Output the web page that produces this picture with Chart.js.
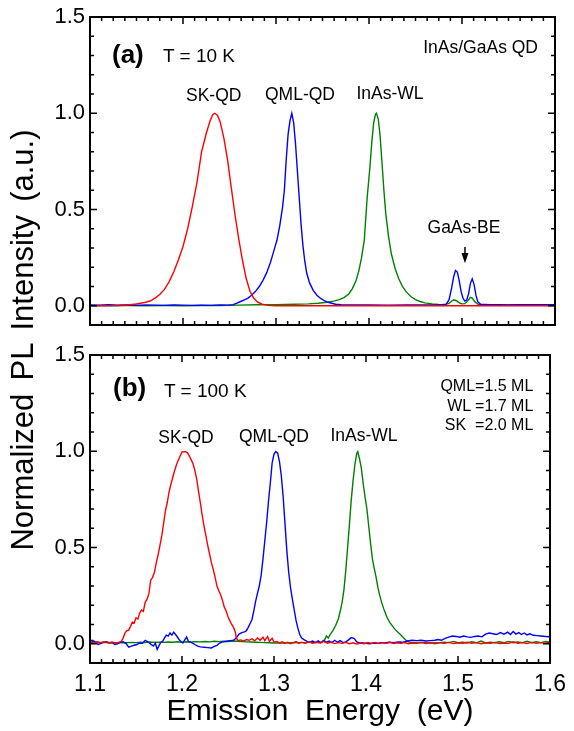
<!DOCTYPE html>
<html>
<head>
<meta charset="utf-8">
<script src="https://cdn.jsdelivr.net/npm/chart.js@4.4.0/dist/chart.umd.min.js"></script>
<style>
  html, body { margin: 0; padding: 0; background: #fff; }
  #wrap { position: relative; width: 574px; height: 731px; overflow: hidden; font-family: Arial, "Liberation Sans", sans-serif; color: #000; }
  #wrap canvas { position: absolute; left: 0; }
  .lbl { position: absolute; white-space: pre; line-height: 1; }
  .mid { transform: translateX(-50%); }
</style>
</head>
<body>
<div id="wrap">
  <canvas id="cnv_10k" width="574" height="335" style="top:0;width:574px;height:335px"></canvas>
  <canvas id="cnv_100k" width="574" height="396" style="top:335px;width:574px;height:396px"></canvas>

  <div class="lbl" style="left:-227.2px;top:325px;width:500px;height:30px;line-height:30px;font-size:31px;word-spacing:-2px;text-align:center;transform:rotate(-90deg)">Normalized  PL  Intensity  (a.u.)</div>

  <!-- panel (a) -->
  <div class="lbl" style="left:112px;top:41.2px;font-size:26px;font-weight:bold">(a)</div>
  <div class="lbl" style="left:163px;top:45.6px;font-size:19px">T = 10 K</div>
  <div class="lbl" style="right:36px;top:38.5px;font-size:17.5px">InAs/GaAs QD</div>
  <div class="lbl mid" style="left:213.7px;top:86.9px;font-size:17.5px">SK-QD</div>
  <div class="lbl mid" style="left:300px;top:85.7px;font-size:17.5px">QML-QD</div>
  <div class="lbl mid" style="left:390px;top:85.2px;font-size:17.5px">InAs-WL</div>
  <div class="lbl mid" style="left:464px;top:218.5px;font-size:17.5px">GaAs-BE</div>

  <!-- panel (b) -->
  <div class="lbl" style="left:113px;top:374.2px;font-size:26px;font-weight:bold">(b)</div>
  <div class="lbl" style="left:164px;top:380.6px;font-size:19px">T = 100 K</div>
  <div class="lbl mid" style="left:186px;top:428.5px;font-size:17.5px">SK-QD</div>
  <div class="lbl mid" style="left:274px;top:428.2px;font-size:17.5px">QML-QD</div>
  <div class="lbl mid" style="left:364px;top:426.9px;font-size:17.5px">InAs-WL</div>
  <div class="lbl" style="right:40.7px;top:378.2px;font-size:16px">QML=1.5 ML</div>
  <div class="lbl" style="right:40.7px;top:398.2px;font-size:16px">WL =1.7 ML</div>
  <div class="lbl" style="right:40.7px;top:417.2px;font-size:16px">SK  =2.0 ML</div>
</div>

<script>
// axis ticks
const xMajorTicks = [1.1, 1.2, 1.3, 1.4, 1.5, 1.6];
const yMajorTicks = [0.0, 0.5, 1.0, 1.5];
const xMinorStep = 0.0125;
const yMinorStep = 0.1;

// ---- T = 10 K ----
const red10E = [1.100,1.130,1.140,1.150,1.160,1.165,1.170,1.175,1.180,1.185,1.190,1.195,1.200,1.205,1.210,1.215,1.220,1.225,1.229,1.232,1.234,1.237,1.240,1.244,1.248,1.252,1.256,1.260,1.264,1.268,1.272,1.276,1.280,1.285,1.292,1.300,1.400,1.500,1.600];
const red10I = [0.000,0.001,0.004,0.009,0.018,0.026,0.040,0.058,0.085,0.124,0.175,0.238,0.308,0.400,0.515,0.640,0.800,0.895,0.960,0.993,1.000,0.990,0.955,0.870,0.755,0.610,0.470,0.345,0.235,0.140,0.075,0.040,0.020,0.008,0.002,0.000,0.000,0.000,0.000];

const blue10E = [1.100,1.110,1.120,1.130,1.140,1.150,1.160,1.170,1.180,1.190,1.200,1.210,1.220,1.230,1.240,1.248,1.254,1.258,1.262,1.266,1.270,1.274,1.278,1.282,1.286,1.290,1.294,1.298,1.301,1.304,1.307,1.309,1.311,1.313,1.315,1.317,1.319,1.321,1.323,1.325,1.327,1.329,1.331,1.333,1.336,1.340,1.344,1.348,1.352,1.356,1.360,1.364,1.370,1.380,1.400,1.420,1.440,1.460,1.478,1.483,1.486,1.489,1.491,1.493,1.495,1.497,1.499,1.501,1.503,1.505,1.507,1.509,1.511,1.513,1.515,1.517,1.520,1.530,1.540,1.550,1.560,1.570,1.580,1.590,1.600];
const blue10I = [0.004,0.003,0.005,0.003,0.004,0.002,0.004,0.003,0.002,0.004,0.003,0.002,0.003,0.002,0.004,0.003,0.006,0.014,0.022,0.030,0.040,0.056,0.075,0.100,0.132,0.172,0.225,0.290,0.340,0.415,0.510,0.600,0.760,0.890,0.960,1.000,0.950,0.840,0.700,0.560,0.420,0.310,0.230,0.170,0.120,0.080,0.055,0.038,0.026,0.018,0.013,0.008,0.005,0.004,0.004,0.003,0.004,0.004,0.005,0.008,0.030,0.095,0.150,0.183,0.175,0.130,0.075,0.040,0.024,0.030,0.060,0.115,0.140,0.110,0.055,0.020,0.008,0.005,0.006,0.004,0.006,0.005,0.006,0.005,0.006];

const green10E = [1.100,1.120,1.140,1.160,1.180,1.200,1.220,1.240,1.260,1.280,1.300,1.320,1.335,1.345,1.355,1.362,1.368,1.373,1.378,1.382,1.386,1.389,1.392,1.395,1.398,1.401,1.403,1.405,1.407,1.408,1.410,1.412,1.414,1.416,1.418,1.421,1.424,1.428,1.432,1.436,1.440,1.445,1.450,1.455,1.460,1.468,1.475,1.482,1.486,1.489,1.491,1.494,1.497,1.500,1.503,1.506,1.509,1.511,1.514,1.517,1.522,1.540,1.560,1.580,1.600];
const green10I = [0.001,0.000,0.001,0.000,0.001,0.000,0.001,0.001,0.003,0.005,0.006,0.008,0.010,0.013,0.018,0.024,0.032,0.042,0.060,0.088,0.130,0.180,0.250,0.345,0.560,0.720,0.850,0.950,0.995,1.000,0.970,0.880,0.740,0.600,0.480,0.360,0.270,0.195,0.140,0.100,0.072,0.048,0.032,0.022,0.015,0.010,0.007,0.006,0.012,0.025,0.031,0.026,0.015,0.010,0.011,0.025,0.044,0.040,0.020,0.008,0.004,0.003,0.004,0.003,0.003];

// ---- T = 100 K ----
const red100E = [1.100,1.104,1.108,1.112,1.116,1.120,1.124,1.128,1.131,1.134,1.136,1.138,1.140,1.142,1.144,1.146,1.148,1.150,1.152,1.154,1.156,1.158,1.160,1.162,1.164,1.166,1.168,1.170,1.172,1.174,1.176,1.178,1.180,1.182,1.184,1.186,1.188,1.190,1.192,1.194,1.196,1.198,1.200,1.204,1.206,1.208,1.210,1.212,1.214,1.216,1.218,1.220,1.222,1.224,1.226,1.228,1.230,1.232,1.234,1.236,1.238,1.240,1.242,1.244,1.246,1.248,1.250,1.252,1.254,1.256,1.258,1.259,1.261,1.264,1.267,1.270,1.273,1.276,1.279,1.282,1.285,1.288,1.290,1.293,1.295,1.298,1.300,1.303,1.306,1.309,1.312,1.315,1.318,1.321,1.324,1.327,1.330,1.334,1.338,1.342,1.346,1.350,1.354,1.358,1.362,1.366,1.370,1.374,1.378,1.382,1.386,1.390,1.394,1.398,1.402,1.406,1.410,1.414,1.418,1.422,1.426,1.430,1.434,1.438,1.442,1.446,1.450,1.455,1.460,1.465,1.470,1.475,1.480,1.485,1.490,1.495,1.500,1.505,1.510,1.515,1.520,1.525,1.530,1.535,1.540,1.545,1.550,1.555,1.560,1.565,1.570,1.575,1.580,1.585,1.590,1.595,1.600];
const red100I = [0.008,0.004,0.010,0.006,0.010,0.005,0.008,0.004,0.007,0.012,0.030,0.055,0.068,0.070,0.090,0.112,0.108,0.135,0.128,0.160,0.175,0.168,0.215,0.232,0.260,0.330,0.345,0.370,0.420,0.462,0.510,0.560,0.625,0.690,0.735,0.790,0.830,0.865,0.900,0.930,0.955,0.975,0.996,0.998,0.992,0.975,0.955,0.935,0.900,0.855,0.790,0.730,0.665,0.610,0.560,0.510,0.465,0.420,0.385,0.345,0.300,0.275,0.255,0.225,0.190,0.170,0.140,0.120,0.100,0.085,0.060,0.030,0.016,0.020,0.014,0.022,0.018,0.026,0.015,0.030,0.018,0.034,0.016,0.038,0.012,0.028,0.008,0.012,0.004,0.010,0.002,0.008,0.000,0.006,0.012,0.002,0.008,0.003,0.010,0.002,0.008,0.004,0.012,0.003,0.008,0.001,0.006,0.002,0.007,0.000,0.005,-0.002,0.004,0.000,0.006,0.002,0.007,0.001,0.006,0.002,0.008,0.001,0.005,0.002,0.006,0.000,0.004,0.002,0.007,0.001,0.005,0.000,0.006,0.002,0.007,0.001,0.005,0.003,0.008,0.002,0.006,0.000,0.005,0.002,0.007,0.001,0.004,0.002,0.010,0.003,0.006,0.001,0.007,0.002,0.006,0.003,0.008];

const blue100E = [1.100,1.103,1.106,1.109,1.112,1.115,1.118,1.121,1.124,1.127,1.130,1.133,1.136,1.139,1.142,1.145,1.148,1.151,1.154,1.157,1.160,1.163,1.166,1.169,1.171,1.173,1.175,1.177,1.179,1.181,1.183,1.185,1.187,1.189,1.191,1.193,1.195,1.197,1.199,1.201,1.203,1.205,1.207,1.209,1.211,1.214,1.217,1.220,1.224,1.228,1.232,1.235,1.238,1.241,1.244,1.247,1.250,1.253,1.256,1.259,1.262,1.265,1.268,1.270,1.272,1.274,1.276,1.278,1.280,1.282,1.284,1.286,1.288,1.290,1.292,1.294,1.296,1.298,1.300,1.302,1.304,1.306,1.308,1.310,1.312,1.314,1.316,1.318,1.320,1.322,1.324,1.326,1.328,1.330,1.333,1.336,1.339,1.342,1.345,1.348,1.351,1.354,1.357,1.360,1.363,1.366,1.369,1.372,1.375,1.378,1.381,1.384,1.387,1.390,1.393,1.396,1.400,1.404,1.408,1.412,1.416,1.420,1.425,1.430,1.435,1.440,1.445,1.450,1.455,1.460,1.465,1.470,1.475,1.478,1.482,1.486,1.490,1.494,1.498,1.502,1.506,1.510,1.514,1.518,1.522,1.526,1.530,1.534,1.538,1.542,1.546,1.550,1.554,1.557,1.560,1.563,1.566,1.569,1.572,1.575,1.578,1.582,1.586,1.590,1.595,1.600];
const blue100I = [0.020,0.012,0.008,-0.004,0.002,0.008,0.010,0.004,0.006,-0.004,0.000,0.008,0.010,0.002,-0.018,-0.012,-0.008,-0.004,0.004,0.002,0.018,0.010,-0.002,-0.012,0.004,-0.030,-0.010,0.008,0.012,0.030,0.045,0.040,0.056,0.045,0.060,0.048,0.035,0.020,0.012,0.004,0.020,0.035,0.012,0.008,0.005,-0.004,-0.012,-0.016,-0.018,-0.020,-0.022,-0.014,-0.008,0.004,0.010,0.012,0.014,0.016,0.018,0.030,0.050,0.058,0.062,0.068,0.085,0.105,0.125,0.170,0.220,0.262,0.300,0.355,0.440,0.535,0.630,0.740,0.835,0.940,0.985,0.998,0.990,0.945,0.870,0.760,0.620,0.480,0.370,0.290,0.230,0.175,0.120,0.080,0.048,0.030,0.020,0.012,0.008,0.014,0.006,0.015,0.005,0.016,0.008,0.014,0.006,0.018,0.008,0.016,0.006,0.010,0.020,0.032,0.028,0.010,0.004,0.006,0.002,0.000,0.004,0.002,0.006,0.004,0.008,0.005,0.009,0.008,0.014,0.018,0.016,0.018,0.014,0.016,0.018,0.022,0.018,0.028,0.034,0.040,0.038,0.034,0.040,0.036,0.033,0.038,0.040,0.036,0.050,0.056,0.052,0.048,0.058,0.050,0.060,0.048,0.064,0.050,0.058,0.048,0.056,0.046,0.052,0.044,0.042,0.040,0.038,0.036];

const green100E = [1.100,1.103,1.106,1.110,1.115,1.120,1.125,1.130,1.135,1.140,1.145,1.150,1.155,1.160,1.165,1.170,1.175,1.180,1.185,1.190,1.195,1.200,1.205,1.210,1.215,1.220,1.225,1.230,1.235,1.240,1.245,1.250,1.255,1.260,1.265,1.270,1.275,1.280,1.285,1.290,1.295,1.300,1.310,1.320,1.330,1.340,1.348,1.352,1.355,1.357,1.359,1.361,1.364,1.367,1.370,1.372,1.374,1.376,1.378,1.380,1.382,1.384,1.386,1.388,1.390,1.391,1.393,1.395,1.397,1.399,1.401,1.403,1.405,1.407,1.409,1.411,1.413,1.415,1.417,1.419,1.421,1.423,1.426,1.429,1.432,1.435,1.438,1.441,1.444,1.447,1.450,1.455,1.460,1.465,1.470,1.475,1.480,1.485,1.490,1.495,1.500,1.505,1.510,1.515,1.520,1.525,1.530,1.535,1.540,1.545,1.550,1.555,1.560,1.565,1.570,1.575,1.580,1.585,1.590,1.595,1.600];
const green100I = [0.015,0.018,0.010,0.006,0.008,0.005,0.007,0.004,0.006,0.005,0.007,0.006,0.008,0.006,0.009,0.007,0.008,0.007,0.009,0.008,0.010,0.008,0.010,0.009,0.011,0.010,0.012,0.010,0.013,0.011,0.013,0.012,0.014,0.013,0.012,0.010,0.009,0.008,0.007,0.006,0.005,0.004,0.004,0.005,0.006,0.007,0.008,0.010,0.020,0.040,0.030,0.048,0.068,0.095,0.130,0.170,0.215,0.280,0.380,0.500,0.620,0.750,0.850,0.935,0.990,0.998,0.960,0.910,0.830,0.760,0.700,0.610,0.520,0.440,0.390,0.345,0.290,0.250,0.215,0.185,0.160,0.135,0.110,0.090,0.072,0.058,0.045,0.030,0.016,0.008,0.005,0.006,0.005,0.007,0.004,0.006,0.005,0.008,0.006,0.012,0.005,0.008,0.004,0.010,0.005,0.014,0.004,0.008,0.005,0.010,0.006,0.012,0.005,0.009,0.006,0.013,0.005,0.010,0.006,0.012,0.008];

// GaAs-BE arrow (data coords)
const arrowE = 1.5032;
const arrowFrom = 0.305, arrowHead = 0.274, arrowTip = 0.221;

const RED = '#ff0000', BLUE = '#0000ff', GREEN = '#008000';
const FONT = 'Arial, "Liberation Sans", sans-serif';

const pts = (es, is) => es.map((e, i) => ({ x: e, y: is[i] }));

// inward ticks on all four sides + frame
const frameTicks = {
	id: 'frameTicks',
	afterDatasetsDraw(chart) {
		const { ctx, chartArea: a, scales: { x, y } } = chart;
		ctx.save();
		ctx.strokeStyle = '#000';
		ctx.lineWidth = 1.5;
		ctx.beginPath();
		const nx = Math.round((1.6 - 1.1) / xMinorStep);
		for (let i = 1; i < nx; i++) {
			const px = x.getPixelForValue(1.1 + i * xMinorStep);
			const len = i % 8 === 0 ? 7 : 4;
			ctx.moveTo(px, a.bottom); ctx.lineTo(px, a.bottom - len);
			ctx.moveTo(px, a.top); ctx.lineTo(px, a.top + len);
		}
		for (let i = 1; i < 16; i++) {
			const v = -0.1 + i * yMinorStep;
			const py = y.getPixelForValue(v);
			const len = (i - 1) % 5 === 0 ? 7 : 4;
			ctx.moveTo(a.left, py); ctx.lineTo(a.left + len, py);
			ctx.moveTo(a.right, py); ctx.lineTo(a.right - len, py);
		}
		ctx.stroke();
		ctx.lineWidth = 2;
		ctx.strokeRect(a.left, a.top, a.right - a.left, a.bottom - a.top);
		ctx.restore();
	}
};

const arrowMark = {
	id: 'arrowMark',
	afterDatasetsDraw(chart) {
		const { ctx, scales: { x, y } } = chart;
		const px = x.getPixelForValue(arrowE);
		ctx.save();
		ctx.strokeStyle = '#000';
		ctx.fillStyle = '#000';
		ctx.lineWidth = 1.5;
		ctx.beginPath();
		ctx.moveTo(px, y.getPixelForValue(arrowFrom));
		ctx.lineTo(px, y.getPixelForValue(arrowHead) + 1);
		ctx.stroke();
		ctx.beginPath();
		ctx.moveTo(px - 3.5, y.getPixelForValue(arrowHead));
		ctx.lineTo(px + 3.5, y.getPixelForValue(arrowHead));
		ctx.lineTo(px, y.getPixelForValue(arrowTip));
		ctx.closePath();
		ctx.fill();
		ctx.restore();
	}
};

const line = (data, color) => ({
	data, borderColor: color, borderWidth: 1.4, pointRadius: 0, showLine: true, tension: 0, fill: false
});

const makePanel = (id, datasets, { showX, xHeight, padTop, extra }) => {
	const ctx = document.getElementById(id).getContext('2d');
	return new Chart(ctx, {
		type: 'scatter',
		data: { datasets },
		plugins: [frameTicks].concat(extra || []),
		options: {
			responsive: false,
			animation: false,
			devicePixelRatio: 1,
			layout: { padding: { top: padTop, right: 19, left: 0, bottom: 0 } },
			plugins: { legend: { display: false }, tooltip: { enabled: false } },
			scales: {
				x: {
					type: 'linear', min: 1.1, max: 1.6,
					afterBuildTicks: s => { s.ticks = xMajorTicks.map(v => ({ value: v })); },
					afterFit: s => { s.height = xHeight; },
					grid: { display: false, drawTicks: false },
					border: { display: false },
					ticks: {
						display: showX, autoSkip: false, maxRotation: 0, padding: 8, color: '#000',
						font: { family: FONT, size: 23, lineHeight: 1.2 },
						callback: v => v.toFixed(1)
					},
					title: {
						display: showX, text: 'Emission  Energy  (eV)', color: '#000',
						font: { family: FONT, size: 30, lineHeight: 1 },
						padding: { top: 0, bottom: 4 }
					}
				},
				y: {
					type: 'linear', min: -0.1, max: 1.5,
					afterBuildTicks: s => { s.ticks = yMajorTicks.map(v => ({ value: v })); },
					// fixed width, and no extra room for half-height labels
					afterFit: s => { s.width = 90; s.paddingTop = 0; s.paddingBottom = 0; },
					grid: { display: false, drawTicks: false },
					border: { display: false },
					ticks: {
						padding: 5, color: '#000',
						font: { family: FONT, size: 22 },
						callback: v => v.toFixed(1)
					}
				}
			}
		}
	});
};

makePanel('cnv_10k', [
	line(pts(red10E, red10I), RED),
	line(pts(blue10E, blue10I), BLUE),
	line(pts(green10E, green10I), GREEN)
], { showX: false, xHeight: 10, padTop: 17, extra: [arrowMark] });

makePanel('cnv_100k', [
	line(pts(red100E, red100I), RED),
	line(pts(blue100E, blue100I), BLUE),
	line(pts(green100E, green100I), GREEN)
], { showX: true, xHeight: 68, padTop: 20 });
</script>
</body>
</html>
